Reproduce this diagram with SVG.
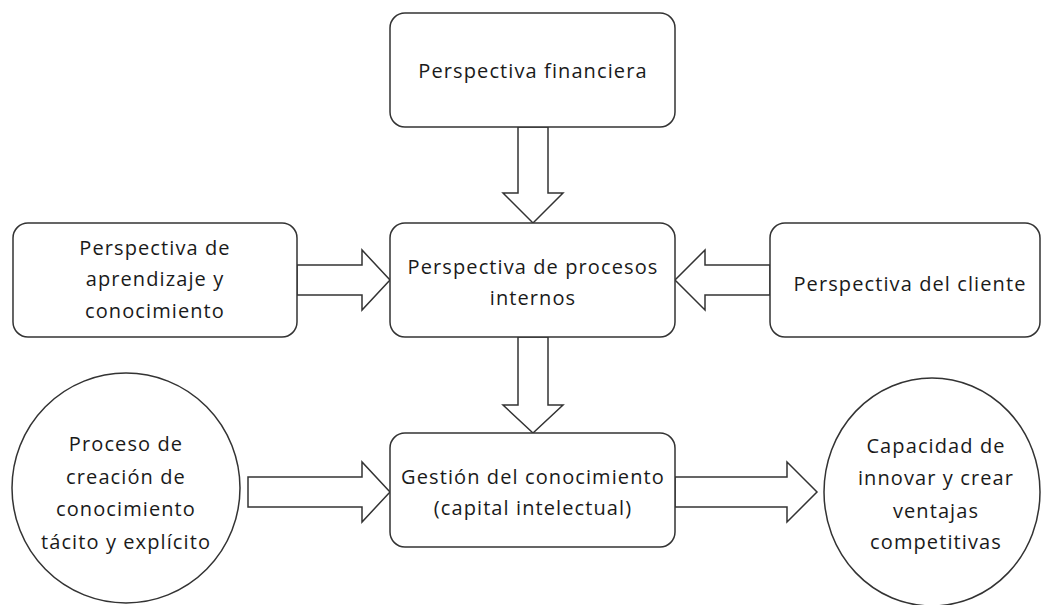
<svg xmlns="http://www.w3.org/2000/svg" width="1042" height="605" viewBox="0 0 1042 605">
  <style>
    .box { fill: #ffffff; stroke: #333333; stroke-width: 1.5; }
    .arrow { fill: #ffffff; stroke: #333333; stroke-width: 1.5; stroke-linejoin: miter; }
    .label { font-family: "Open Sans", "Noto Sans", "DejaVu Sans", sans-serif; font-size: 20px; letter-spacing: 1.1px; fill: #1a1a1a; text-anchor: middle; }
  </style>
  <rect width="1042" height="605" fill="#ffffff"/>

  <!-- block arrows -->
  <g id="connectors">
    <!-- financiera -> procesos -->
    <path class="arrow" d="M518,127 L548,127 L548,193 L563,193 L533,223 L503,193 L518,193 Z"/>
    <!-- procesos -> gestion -->
    <path class="arrow" d="M518,337 L548,337 L548,405 L563,405 L533,433 L503,405 L518,405 Z"/>
    <!-- aprendizaje -> procesos -->
    <path class="arrow" d="M297,265 L362,265 L362,250 L390,280 L362,310 L362,295 L297,295 Z"/>
    <!-- cliente -> procesos -->
    <path class="arrow" d="M770,265 L705,265 L705,250 L675,280 L705,310 L705,295 L770,295 Z"/>
    <!-- creacion -> gestion -->
    <path class="arrow" d="M248,477 L362,477 L362,462 L390,492 L362,522 L362,507 L248,507 Z"/>
    <!-- gestion -> capacidad -->
    <path class="arrow" d="M675,477 L787,477 L787,462 L817,492 L787,522 L787,507 L675,507 Z"/>
  </g>

  <g id="financiera">
    <rect class="box" x="390" y="13" width="285" height="114" rx="15"/>
    <text class="label" x="533" y="78">Perspectiva financiera</text>
  </g>

  <g id="procesos">
    <rect class="box" x="390" y="223" width="285" height="114" rx="15"/>
    <text class="label" x="533" y="274">Perspectiva de procesos</text>
    <text class="label" x="533" y="305">internos</text>
  </g>

  <g id="aprendizaje">
    <rect class="box" x="13" y="223" width="284" height="114" rx="15"/>
    <text class="label" x="155" y="255">Perspectiva de</text>
    <text class="label" x="155" y="286">aprendizaje y</text>
    <text class="label" x="155" y="318">conocimiento</text>
  </g>

  <g id="cliente">
    <rect class="box" x="770" y="223" width="270" height="114" rx="15"/>
    <text class="label" x="910" y="291">Perspectiva del cliente</text>
  </g>

  <g id="gestion">
    <rect class="box" x="390" y="433" width="285" height="114" rx="15"/>
    <text class="label" x="533" y="484">Gestión del conocimiento</text>
    <text class="label" x="533" y="515">(capital intelectual)</text>
  </g>

  <g id="creacion">
    <ellipse class="box" cx="126" cy="488" rx="114" ry="115"/>
    <text class="label" x="126" y="451">Proceso de</text>
    <text class="label" x="126" y="484">creación de</text>
    <text class="label" x="126" y="516">conocimiento</text>
    <text class="label" x="126" y="549">tácito y explícito</text>
  </g>

  <g id="capacidad">
    <ellipse class="box" cx="932" cy="492" rx="108" ry="114"/>
    <text class="label" x="936" y="453">Capacidad de</text>
    <text class="label" x="936" y="485">innovar y crear</text>
    <text class="label" x="936" y="518">ventajas</text>
    <text class="label" x="936" y="549">competitivas</text>
  </g>
</svg>
